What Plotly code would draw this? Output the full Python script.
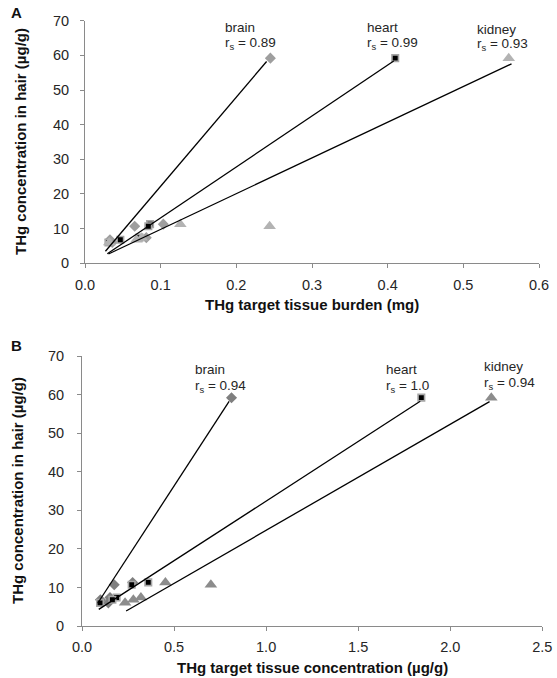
import plotly.graph_objects as go

# ---------------- data ----------------
organs = ["brain", "heart", "kidney"]
hair = [59.2, 11.3, 10.7, 7.4, 6.8, 6.0]

# Panel A: THg target tissue burden (mg)
brain_A = [0.245, 0.1035, 0.0657, 0.081, 0.033, 0.036]
heart_A = [0.410, 0.086, 0.0837, 0.072, 0.0467, 0.031]
kidney_A = [0.560, 0.126, 0.244, 0.075, 0.068, 0.032]
rs_A = ["0.89", "0.99", "0.93"]
fit_slope_A = [257.0, 147.0, 103.0]
fit_intercept_A = [-3.45, -1.6, -0.5]
fit_x0_A = [0.027, 0.0295, 0.031]
fit_x1_A = [0.240, 0.408, 0.5637]

# Panel B: THg target tissue concentration (µg/g)
brain_B = [0.812, 0.275, 0.175, 0.152, 0.100, 0.143]
heart_B = [1.843, 0.360, 0.270, 0.188, 0.165, 0.098]
kidney_B = [2.223, 0.453, 0.700, 0.320, 0.279, 0.234]
rs_B = ["0.94", "1.0", "0.94"]
fit_slope_B = [73.3, 30.9, 27.5]
fit_intercept_B = [-0.35, 1.49, -2.69]
fit_x0_B = [0.0853, 0.091, 0.2396]
fit_x1_B = [0.799, 1.837, 2.2135]

xticks_A = [0.0, 0.1, 0.2, 0.3, 0.4, 0.5, 0.6]
xticks_B = [0.0, 0.5, 1.0, 1.5, 2.0, 2.5]
yticks = [0, 10, 20, 30, 40, 50, 60, 70]

# ---------------- styles ----------------
W, H = 557, 678
FONT = "Liberation Sans, Arial, sans-serif"
AX_COL = "#8a8a8a"
TXT = "#262626"

styles_A = [
    dict(symbol="diamond", size=8.5, color="#9e9e9e", line=dict(width=0)),
    dict(symbol="square", size=6.5, color="#000000", line=dict(width=1.6, color="#a6a6a6")),
    dict(symbol="triangle-up", size=11, color="#b3b3b3", line=dict(width=0)),
]
styles_B = [
    dict(symbol="diamond", size=8.5, color="#7f7f7f", line=dict(width=0)),
    dict(symbol="square", size=6.5, color="#000000", line=dict(width=1.6, color="#a6a6a6")),
    dict(symbol="triangle-up", size=11, color="#8c8c8c", line=dict(width=0)),
]

fig = go.Figure()

def add_panel(xs_list, styles, slopes, inters, x0s, x1s, xa, ya):
    for xs, st in zip(xs_list, styles):
        fig.add_trace(go.Scatter(x=xs, y=hair, mode="markers", marker=st,
                                 xaxis=xa, yaxis=ya, showlegend=False, hoverinfo="skip"))
    for s, b, a0, a1 in zip(slopes, inters, x0s, x1s):
        fig.add_trace(go.Scatter(x=[a0, a1], y=[s * a0 + b, s * a1 + b], mode="lines",
                                 line=dict(color="black", width=1.3),
                                 xaxis=xa, yaxis=ya, showlegend=False, hoverinfo="skip"))

add_panel([brain_A, heart_A, kidney_A], styles_A, fit_slope_A, fit_intercept_A,
          fit_x0_A, fit_x1_A, "x", "y")
add_panel([brain_B, heart_B, kidney_B], styles_B, fit_slope_B, fit_intercept_B,
          fit_x0_B, fit_x1_B, "x2", "y2")

TICK_FONT = dict(family=FONT, size=14.5, color=TXT)

def xaxis_cfg(dom, rng, ticks, anchor, fmt):
    return dict(domain=dom, range=rng, tickvals=ticks, ticktext=[fmt.format(t) for t in ticks],
                showline=True, linecolor=AX_COL, linewidth=1, ticks="outside", ticklen=4,
                tickcolor=AX_COL, showgrid=False, zeroline=False, anchor=anchor,
                tickfont=TICK_FONT, ticklabelstandoff=4)

def yaxis_cfg(dom, anchor, standoff):
    return dict(domain=dom, range=[0, 70], tickvals=yticks, showline=True, linecolor=AX_COL,
                linewidth=1, ticks="outside", ticklen=4, tickcolor=AX_COL, showgrid=False,
                zeroline=False, anchor=anchor, tickfont=TICK_FONT, ticklabelstandoff=standoff)

# pixel geometry
A_x = (85, 539); A_y = (20.7, 263.3)
B_x = (82, 542.3); B_y = (356, 626)
fx = lambda p: p / W
fy = lambda p: 1 - p / H

fig.update_layout(
    width=W, height=H, margin=dict(l=0, r=0, t=0, b=0, autoexpand=False),
    paper_bgcolor="white", plot_bgcolor="white",
    xaxis=xaxis_cfg([fx(A_x[0]), fx(A_x[1])], [0, 0.6], xticks_A, "y", "{:.1f}"),
    yaxis=yaxis_cfg([fy(A_y[1]), fy(A_y[0])], "x", 8),
    xaxis2=xaxis_cfg([fx(B_x[0]), fx(B_x[1])], [0, 2.5], xticks_B, "y2", "{:.1f}"),
    yaxis2=yaxis_cfg([fy(B_y[1]), fy(B_y[0])], "x2", 10),
)

ann = []
LAB_FONT = dict(family=FONT, size=13.5, color=TXT)
lab_A = [(0.182, 68.1, 63.5), (0.3703, 68.1, 63.5), (0.5154, 67.5, 63.0)]
lab_B = [(0.602, 66.4, 62.0), (1.640, 66.6, 62.2), (2.173, 67.2, 62.9)]
for (xr, yr, lab, rs) in [("x", "y", lab_A, rs_A), ("x2", "y2", lab_B, rs_B)]:
    for org, (lx, l1, l2), r in zip(organs, lab, rs):
        ann.append(dict(x=lx, y=l1, xref=xr, yref=yr, text=org, showarrow=False,
                        xanchor="left", yanchor="middle", font=LAB_FONT))
        ann.append(dict(x=lx, y=l2, xref=xr, yref=yr, text="r<sub>s</sub> = " + r,
                        showarrow=False, xanchor="left", yanchor="middle", font=LAB_FONT))

bold = dict(family=FONT, size=15, color="#111111")
def pann(px, py, text, angle=0):
    return dict(x=fx(px), y=fy(py), xref="paper", yref="paper", text=text, showarrow=False,
                xanchor="center", yanchor="middle", textangle=angle, font=bold)

ann.append(pann(312, 304, "<b>THg target tissue burden (mg)</b>"))
ann.append(pann(312, 667, "<b>THg target tissue concentration (µg/g)</b>"))
ann.append(pann(21, 142, "<b>THg concentration in hair (µg/g)</b>", -90))
ann.append(pann(17, 491, "<b>THg concentration in hair (µg/g)</b>", -90))
ann.append(pann(16, 12, "<b>A</b>"))
ann.append(pann(16, 345, "<b>B</b>"))

fig.update_layout(annotations=ann)
fig.write_html("out.html", config={"displayModeBar": False},
               post_script="document.body.style.margin='0px';")
